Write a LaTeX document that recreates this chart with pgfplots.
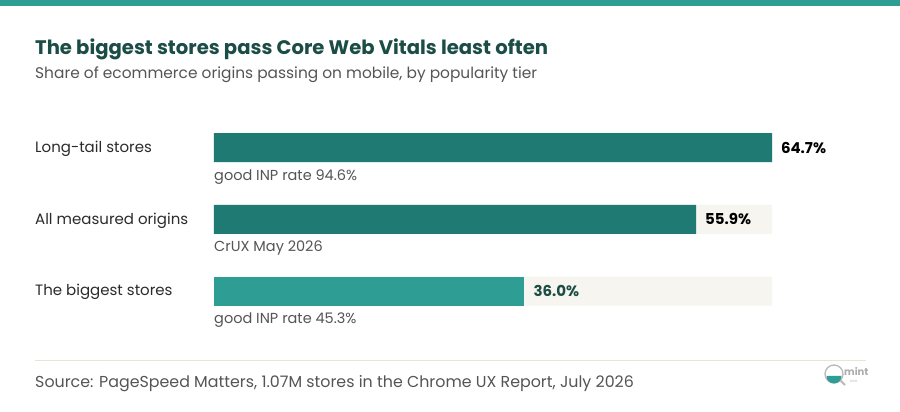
\documentclass[border=0pt]{standalone}
\usepackage{pgfplots}
\pgfplotsset{compat=1.18}
\usepackage{fontspec}
\setmainfont{Poppins}
\definecolor{band}{HTML}{2E9E94}
\definecolor{bardark}{HTML}{1F7A73}
\definecolor{barlight}{HTML}{2E9E94}
\definecolor{track}{HTML}{F7F5F0}
\definecolor{titlec}{HTML}{1B4D46}
\definecolor{sub}{HTML}{555555}
\definecolor{lab}{HTML}{2B2B2B}
\definecolor{sep}{HTML}{E9E4D8}
\begin{document}
\begin{tikzpicture}
\fill[white] (0,0) rectangle (900pt,412pt);
\useasboundingbox (0,0) rectangle (900pt,412pt);
\fill[band] (0,406pt) rectangle (900pt,412pt);
\node[anchor=base west,inner sep=0,text=titlec,font=\fontsize{19.6}{24}\selectfont\bfseries] at (35pt,357pt) {The biggest stores pass Core Web Vitals least often};
\node[anchor=base west,inner sep=0,text=sub,font=\fontsize{15.4}{18}\selectfont] at (35pt,333pt) {Share of ecommerce origins passing on mobile, by popularity tier};
\draw[sep,line width=1pt] (35pt,51pt) -- (866pt,51pt);
\node[anchor=base west,inner sep=0,text=sub,font=\fontsize{15.85}{18}\selectfont] at (35pt,24pt) {Source: PageSpeed Matters, 1.07M stores in the Chrome UX Report, July 2026};
% small logo
\draw[gray!55,line width=1.3pt,fill=white] (834pt,38pt) circle (9pt);
\fill[barlight] (826.5pt,36pt) arc (180:360:7.5pt) -- cycle;
\draw[gray!55,line width=1.8pt] (840.5pt,31.5pt) -- (845pt,27pt);
\node[anchor=base west,inner sep=0,text=gray!65,font=\fontsize{10}{11}\selectfont\bfseries] at (844pt,36pt) {mint};
\node[anchor=base west,inner sep=0,text=gray!50,font=\fontsize{4}{5}\selectfont] at (850pt,29pt) {seo};
\begin{axis}[
  at={(214pt,85.1pt)}, anchor=south west,
  scale only axis, width=558pt, height=215.25pt,
  xmin=0, xmax=64.7, ymin=-0.5, ymax=2.5, y dir=reverse,
  hide axis, clip=false,
  xbar, bar width=29pt, bar shift=0pt,
  point meta=x,
  /pgf/number format/assume math mode=true,
]
\addplot[fill=track,draw=none] coordinates {(64.7,0) (64.7,1) (64.7,2)};
\addplot[fill=bardark,draw=none,
  nodes near coords={\pgfmathprintnumber[fixed,precision=1,fixed zerofill]{\pgfplotspointmeta}\%},
  nodes near coords style={anchor=west,xshift=5.5pt,text=black,font=\fontsize{15}{17}\selectfont\bfseries}]
  coordinates {(64.7,0) (55.9,1)};
\addplot[fill=barlight,draw=none,
  nodes near coords={\pgfmathprintnumber[fixed,precision=1,fixed zerofill]{\pgfplotspointmeta}\%},
  nodes near coords style={anchor=west,xshift=5.5pt,text=titlec,font=\fontsize{15}{17}\selectfont\bfseries}]
  coordinates {(36.0,2)};
\foreach \i/\name/\note in {0/Long-tail stores/good INP rate 94.6\%,1/All measured origins/CrUX May 2026,2/The biggest stores/good INP rate 45.3\%}{
  \edef\tmp{\noexpand\node[anchor=base west,inner sep=0,text=lab,font=\noexpand\fontsize{15}{18}\noexpand\selectfont] at (axis cs:0,\i) [xshift=-179pt,yshift=-4.8pt] {\name};
  \noexpand\node[anchor=base west,inner sep=0,text=sub,font=\noexpand\fontsize{14.5}{17}\noexpand\selectfont] at (axis cs:0,\i) [yshift=-32.5pt] {\note};}
  \tmp
}
\end{axis}
\end{tikzpicture}
\end{document}
